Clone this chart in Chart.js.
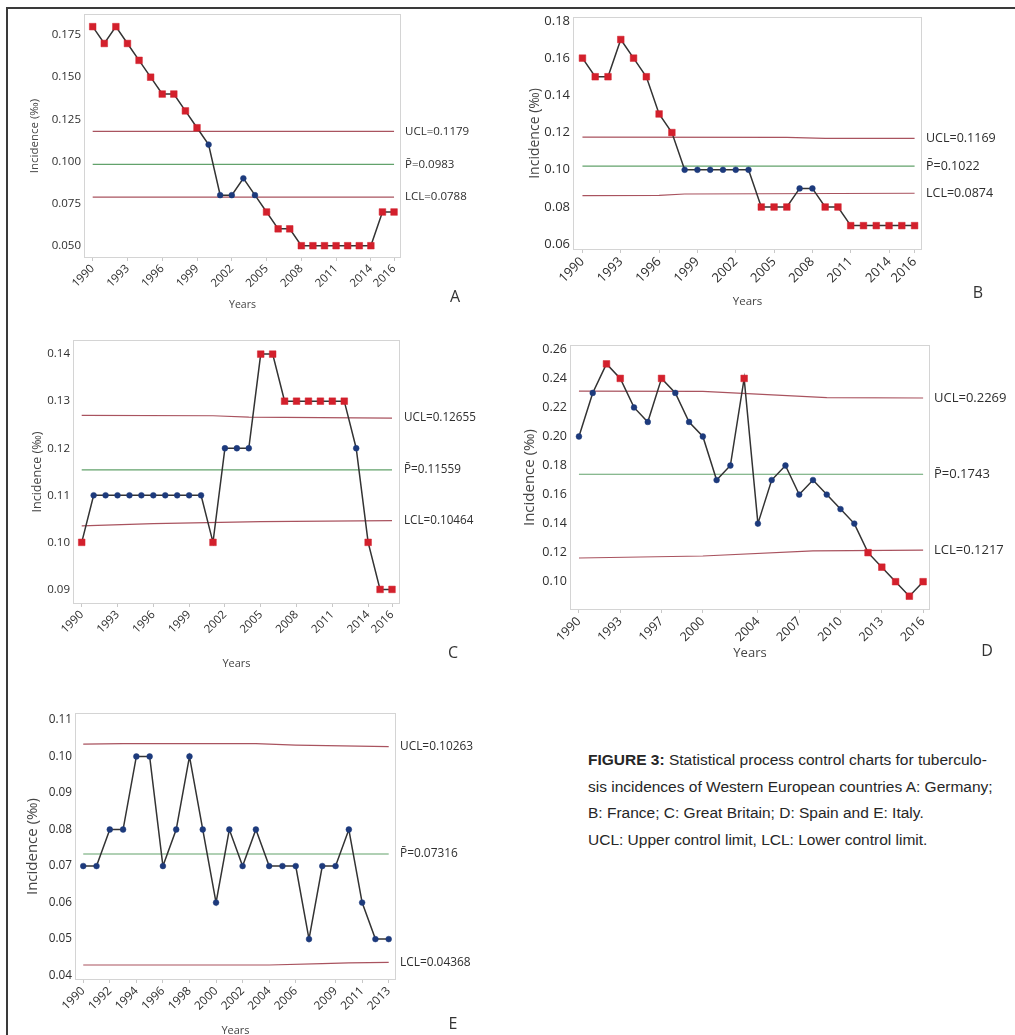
<!DOCTYPE html>
<html>
<head>
<meta charset="utf-8">
<script src="https://cdn.jsdelivr.net/npm/chart.js@4.4.1/dist/chart.umd.min.js"></script>
<style>
  body { margin: 0; background: #fff; width: 1015px; height: 1035px; position: relative; overflow: hidden; font-family: "Liberation Sans", Arial, sans-serif; }
  .frame-top { position: absolute; left: 6px; top: 7px; width: 1009px; height: 2px; background: #3a3a3a; }
  .frame-left { position: absolute; left: 6px; top: 7px; width: 2px; height: 1028px; background: #3a3a3a; }
  .panel { position: absolute; }
  .letter { position: absolute; font-family: "Open Sans", sans-serif; font-size: 16px; color: #333; transform: translate(-50%, -50%); }
  .caption { position: absolute; left: 588px; top: 747px; font-size: 15.5px; line-height: 26.7px; color: #262626; white-space: nowrap; }
</style>
</head>
<body>
<div class="frame-top"></div>
<div class="frame-left"></div>
<div class="caption"><b>FIGURE 3:</b> Statistical process control charts for tuberculo-<br>sis incidences of Western European countries A: Germany;<br>B: France; C: Great Britain; D: Spain and E: Italy.<br>UCL: Upper control limit, LCL: Lower control limit.</div>

<script>
// incidence per year (index 0 = 1990)
const incA = [0.18, 0.17, 0.18, 0.17, 0.16, 0.15, 0.14, 0.14, 0.13, 0.12, 0.11, 0.08, 0.08, 0.09, 0.08, 0.07, 0.06, 0.06, 0.05, 0.05, 0.05, 0.05, 0.05, 0.05, 0.05, 0.07, 0.07];
const incB = [0.16, 0.15, 0.15, 0.17, 0.16, 0.15, 0.13, 0.12, 0.10, 0.10, 0.10, 0.10, 0.10, 0.10, 0.08, 0.08, 0.08, 0.09, 0.09, 0.08, 0.08, 0.07, 0.07, 0.07, 0.07, 0.07, 0.07];
const incC = [0.10, 0.11, 0.11, 0.11, 0.11, 0.11, 0.11, 0.11, 0.11, 0.11, 0.11, 0.10, 0.12, 0.12, 0.12, 0.14, 0.14, 0.13, 0.13, 0.13, 0.13, 0.13, 0.13, 0.12, 0.10, 0.09, 0.09];
const incD = [0.20, 0.23, 0.25, 0.24, 0.22, 0.21, 0.24, 0.23, 0.21, 0.20, 0.17, 0.18, 0.24, 0.14, 0.17, 0.18, 0.16, 0.17, 0.16, 0.15, 0.14, 0.12, 0.11, 0.10, 0.09, 0.10];
const incE = [0.07, 0.07, 0.08, 0.08, 0.10, 0.10, 0.07, 0.08, 0.10, 0.08, 0.06, 0.08, 0.07, 0.08, 0.07, 0.07, 0.07, 0.05, 0.07, 0.07, 0.08, 0.06, 0.05, 0.05];

// control limits as [index, value] knots (the limits drift a little)
const uclA = [[0, 0.1179], [26, 0.1179]];
const ctrA = [[0, 0.0983], [26, 0.0983]];
const lclA = [[0, 0.0788], [26, 0.0788]];
const uclB = [[0, 0.1176], [16, 0.1174], [19, 0.1169], [26, 0.1169]];
const ctrB = [[0, 0.1020], [26, 0.1020]];
const lclB = [[0, 0.0861], [6, 0.0862], [8, 0.0870], [26, 0.0874]];
const uclC = [[0, 0.1270], [11, 0.1269], [14, 0.1266], [26, 0.1264]];
const ctrC = [[0, 0.1154], [26, 0.1154]];
const lclC = [[0, 0.1035], [6, 0.1040], [15, 0.1044], [26, 0.1046]];
const uclD = [[0, 0.2313], [9, 0.2310], [18, 0.2268], [25, 0.2265]];
const ctrD = [[0, 0.1740], [25, 0.1740]];
const lclD = [[0, 0.1163], [9, 0.1177], [17, 0.1212], [25, 0.1217]];
const uclE = [[0, 0.1034], [3, 0.1035], [13, 0.1035], [16, 0.1031], [23, 0.1027]];
const ctrE = [[0, 0.0733], [23, 0.0733]];
const lclE = [[0, 0.0429], [14, 0.0429], [18, 0.0433], [20, 0.0435], [23, 0.0436]];

const limTextA = ['UCL=0.1179', 'P\u0304=0.0983', 'LCL=0.0788'];
const limTextB = ['UCL=0.1169', 'P\u0304=0.1022', 'LCL=0.0874'];
const limTextC = ['UCL=0.12655', 'P\u0304=0.11559', 'LCL=0.10464'];
const limTextD = ['UCL=0.2269', 'P\u0304=0.1743', 'LCL=0.1217'];
const limTextE = ['UCL=0.10263', 'P\u0304=0.07316', 'LCL=0.04368'];

// x tick labels (index -> year text)
const tickIdxABC = [0, 3, 6, 9, 12, 15, 18, 21, 24, 26];
const tickTextABC = ['1990', '1993', '1996', '1999', '2002', '2005', '2008', '2011', '2014', '2016'];
const tickIdxD = [0, 3, 6, 9, 13, 16, 19, 22, 25];
const tickTextD = ['1990', '1993', '1997', '2000', '2004', '2007', '2010', '2013', '2016'];
const tickIdxE = [0, 2, 4, 6, 8, 10, 12, 14, 16, 19, 21, 23];
const tickTextE = ['1990', '1992', '1994', '1996', '1998', '2000', '2002', '2004', '2006', '2009', '2011', '2013'];

// y tick values
const yTicksA = [0.050, 0.075, 0.100, 0.125, 0.150, 0.175];
const yTicksB = [0.06, 0.08, 0.10, 0.12, 0.14, 0.16, 0.18];
const yTicksC = [0.09, 0.10, 0.11, 0.12, 0.13, 0.14];
const yTicksD = [0.10, 0.12, 0.14, 0.16, 0.18, 0.20, 0.22, 0.24, 0.26];
const yTicksE = [0.04, 0.05, 0.06, 0.07, 0.08, 0.09, 0.10, 0.11];

const RED = '#d3202c';
const BLUE = '#1d3a7c';
const LIM_RED = '#a9535f';
const LIM_GREEN = '#62a26b';
const FONT = '"Open Sans", sans-serif';

// layout of each panel (page px)
const panels = [
  { letter: 'A', inc: incA, ucl: uclA, ctr: ctrA, lcl: lclA, lim: limTextA, yTicks: yTicksA, dec: 3,
    yMin: 0.0427, yMax: 0.1875, xMin: -0.75, xMax: 26.6, tIdx: tickIdxABC, tText: tickTextABC,
    box: { l: 84, t: 14, r: 401, b: 258 }, titleX: 35, yearsY: 305, letterAt: [455, 296],
    fs: { tick: 11.5, title: 11.5, lim: 11.5, years: 10.5 } },
  { letter: 'B', inc: incB, ucl: uclB, ctr: ctrB, lcl: lclB, lim: limTextB, yTicks: yTicksB, dec: 2,
    yMin: 0.0569, yMax: 0.1821, xMin: -0.74, xMax: 26.58, tIdx: tickIdxABC, tText: tickTextABC,
    box: { l: 573, t: 17, r: 922, b: 250 }, titleX: 535, yearsY: 302, letterAt: [978, 292],
    fs: { tick: 13, title: 14, lim: 12.5, years: 11.5 } },
  { letter: 'C', inc: incC, ucl: uclC, ctr: ctrC, lcl: lclC, lim: limTextC, yTicks: yTicksC, dec: 2,
    yMin: 0.0869, yMax: 0.1430, xMin: -0.73, xMax: 26.67, tIdx: tickIdxABC, tText: tickTextABC,
    box: { l: 73, t: 340, r: 400, b: 604 }, titleX: 37, yearsY: 663, letterAt: [453, 652],
    fs: { tick: 11.5, title: 12.5, lim: 11.7, years: 11 } },
  { letter: 'D', inc: incD, ucl: uclD, ctr: ctrD, lcl: lclD, lim: limTextD, yTicks: yTicksD, dec: 2,
    yMin: 0.0805, yMax: 0.263, xMin: -0.65, xMax: 25.5, tIdx: tickIdxD, tText: tickTextD,
    box: { l: 570, t: 345, r: 930, b: 610 }, titleX: 530, yearsY: 653, letterAt: [987, 650],
    fs: { tick: 12.5, title: 15, lim: 13, years: 13 } },
  { letter: 'E', inc: incE, ucl: uclE, ctr: ctrE, lcl: lclE, lim: limTextE, yTicks: yTicksE, dec: 2,
    yMin: 0.0388, yMax: 0.1119, xMin: -0.62, xMax: 23.55, tIdx: tickIdxE, tText: tickTextE,
    box: { l: 75, t: 713, r: 396, b: 980 }, titleX: 33, yearsY: 1030, letterAt: [453, 1023],
    fs: { tick: 11.8, title: 15, lim: 11.9, years: 11 } }
];

function limitAt(knots, i) {
  for (let k = 1; k < knots.length; k++) {
    const [x0, y0] = knots[k - 1], [x1, y1] = knots[k];
    if (i <= x1) return y0 + (y1 - y0) * (i - x0) / (x1 - x0);
  }
  return knots[knots.length - 1][1];
}

// plot frame + limit labels on the right
const decor = {
  id: 'decor',
  beforeDatasetsDraw(chart) {
    const { ctx, chartArea: a } = chart;
    ctx.save();
    ctx.strokeStyle = '#d4d4d4';
    ctx.lineWidth = 1;
    ctx.strokeRect(a.left + 0.5, a.top + 0.5, a.width - 1, a.height - 1);
    ctx.restore();
  },
  afterDraw(chart, args, opts) {
    const { ctx, chartArea: a, scales } = chart;
    ctx.save();
    ctx.fillStyle = '#2e2e2e';
    ctx.font = opts.size + 'px ' + FONT;
    ctx.textBaseline = 'middle';
    opts.items.forEach(it => {
      ctx.fillText(it.text, a.right + 4, scales.y.getPixelForValue(it.value));
    });
    ctx.restore();
  }
};

panels.forEach(p => {
  const lhTitle = p.fs.title * 1.2;
  const lhYears = p.fs.years * 1.2;
  const left = Math.round(p.titleX - lhTitle / 2);
  const top = p.box.t - 12;
  const bottom = Math.round(p.yearsY + lhYears / 2);
  const right = p.box.r + 100;
  const ySw = p.box.l - left;
  const xSh = bottom - p.box.b;

  const wrap = document.createElement('div');
  wrap.className = 'panel';
  wrap.style.left = left + 'px';
  wrap.style.top = top + 'px';
  const cv = document.createElement('canvas');
  cv.width = right - left;
  cv.height = bottom - top;
  wrap.appendChild(cv);
  document.body.appendChild(wrap);

  const lbl = document.createElement('div');
  lbl.className = 'letter';
  lbl.textContent = p.letter;
  lbl.style.left = p.letterAt[0] + 'px';
  lbl.style.top = p.letterAt[1] + 'px';
  document.body.appendChild(lbl);

  const out = p.inc.map((v, i) => v > limitAt(p.ucl, i) || v < limitAt(p.lcl, i));
  const limLine = (knots, color) => ({
    data: knots.map(k => ({ x: k[0], y: k[1] })),
    borderColor: color, borderWidth: 1.2, pointRadius: 0, tension: 0
  });

  new Chart(cv, {
    type: 'line',
    data: {
      datasets: [
        {
          data: p.inc.map((v, i) => ({ x: i, y: v })),
          borderColor: '#333', borderWidth: 1.5, tension: 0,
          pointStyle: out.map(o => o ? 'rect' : 'circle'),
          pointRadius: out.map(o => o ? 4.7 : 2.9),
          pointBackgroundColor: out.map(o => o ? RED : BLUE),
          pointBorderColor: out.map(o => o ? RED : BLUE),
          pointBorderWidth: 0.5
        },
        limLine(p.ucl, LIM_RED),
        limLine(p.ctr, LIM_GREEN),
        limLine(p.lcl, LIM_RED)
      ]
    },
    options: {
      responsive: false,
      animation: false,
      devicePixelRatio: 1,
      layout: { padding: { top: 12, right: 100, left: 0, bottom: 0 } },
      plugins: {
        legend: { display: false },
        tooltip: { enabled: false },
        decor: {
          size: p.fs.lim,
          items: [
            { text: p.lim[0], value: p.ucl[p.ucl.length - 1][1] },
            { text: p.lim[1], value: p.ctr[p.ctr.length - 1][1] },
            { text: p.lim[2], value: p.lcl[p.lcl.length - 1][1] }
          ]
        }
      },
      scales: {
        x: {
          type: 'linear',
          min: p.xMin, max: p.xMax,
          afterBuildTicks: s => { s.ticks = p.tIdx.map(v => ({ value: v })); },
          afterFit: s => { s.height = xSh; },
          border: { display: false },
          grid: { drawOnChartArea: false, drawTicks: true, tickLength: 3, color: '#c8c8c8' },
          ticks: {
            autoSkip: false, minRotation: 45, maxRotation: 45, padding: 1,
            color: '#2e2e2e', font: { family: FONT, size: p.fs.tick },
            callback: v => p.tText[p.tIdx.indexOf(v)]
          },
          title: { display: true, text: 'Years', color: '#444', padding: 0, font: { family: FONT, size: p.fs.years } }
        },
        y: {
          min: p.yMin, max: p.yMax,
          afterBuildTicks: s => { s.ticks = p.yTicks.map(v => ({ value: v })); },
          afterFit: s => { s.width = ySw; },
          border: { display: false },
          grid: { drawOnChartArea: false, drawTicks: false },
          ticks: {
            padding: 3, color: '#2e2e2e', font: { family: FONT, size: p.fs.tick },
            callback: v => v.toFixed(p.dec)
          },
          title: { display: true, text: 'Incidence (‰)', color: '#444', padding: 0, font: { family: FONT, size: p.fs.title } }
        }
      }
    },
    plugins: [decor]
  });
});
</script>
</body>
</html>
